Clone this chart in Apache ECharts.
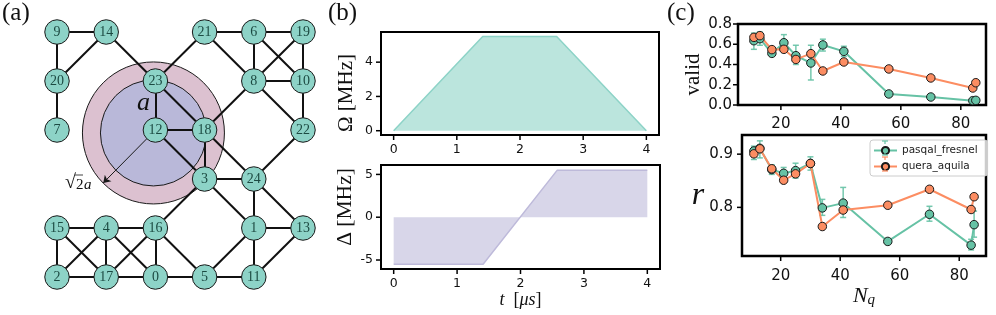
<!DOCTYPE html>
<html>
<head>
<meta charset="utf-8">
<style>html,body{margin:0;padding:0;background:#fff}#chart{width:996px;height:315px}</style>
<script src="https://cdn.jsdelivr.net/npm/echarts@6/dist/echarts.min.js"></script>
</head>
<body>
<div id="chart"></div>
<script>
// (a) atom layout: [name, column, row]
const nodes = [
  ['9',0,0],['14',1,0],['21',3,0],['6',4,0],['19',5,0],
  ['20',0,1],['23',2,1],['8',4,1],['10',5,1],
  ['7',0,2],['12',2,2],['18',3,2],['22',5,2],
  ['3',3,3],['24',4,3],
  ['15',0,4],['4',1,4],['16',2,4],['1',4,4],['13',5,4],
  ['2',0,5],['17',1,5],['0',2,5],['5',3,5],['11',4,5]
]
const edges = [
  ['9','14'],['9','20'],['14','20'],['20','7'],['14','23'],['21','23'],['21','6'],['21','8'],
  ['6','19'],['6','8'],['6','10'],['19','8'],['19','10'],['8','10'],['8','18'],['8','22'],
  ['10','22'],['22','24'],['23','12'],['23','18'],['12','18'],['12','3'],['18','3'],['18','24'],
  ['3','24'],['3','1'],['3','16'],['24','1'],['24','13'],['1','13'],['1','11'],['1','5'],
  ['13','11'],['15','4'],['15','2'],['15','17'],['4','16'],['4','2'],['4','17'],['4','0'],
  ['16','17'],['16','0'],['16','5'],['2','17'],['17','0'],['0','5'],['5','11']
]
const blockadeCentre = [1.96, 2.06]
const arrowEnd = [0.94, 3.08]

// (b) pulse shapes
const pulseT = [0, 1.41, 2.58, 4]
const omega = [0, 5.5, 5.5, 0]
const delta = [-5.5, -5.5, 5.5, 5.5]
const pulseTicksX = [0, 1, 2, 3, 4]
const omegaTicks = [0, 2, 4]
const deltaTicks = [-5, 0, 5]

// (c) results per qubit count
const nq = [11, 13, 17, 21, 25, 30, 34, 41, 56, 70, 84, 85]
const validPasqal = [0.635, 0.655, 0.51, 0.615, 0.487, 0.415, 0.593, 0.53, 0.109, 0.079, 0.043, 0.046]
const validPasqalLow = [0.55, 0.59, 0.49, 0.54, 0.40, 0.247, 0.533, 0.48, 0.095, 0.068, 0.035, 0.036]
const validPasqalHigh = [0.71, 0.72, 0.53, 0.695, 0.59, 0.59, 0.65, 0.58, 0.123, 0.09, 0.051, 0.056]
const validQuera = [0.668, 0.685, 0.547, 0.55, 0.45, 0.507, 0.336, 0.425, 0.356, 0.267, 0.168, 0.22]
const validQueraLow = [0.65, 0.665, 0.53, 0.535, 0.43, 0.49, 0.325, 0.41, 0.345, 0.257, 0.16, 0.21]
const validQueraHigh = [0.686, 0.705, 0.565, 0.565, 0.47, 0.525, 0.347, 0.44, 0.367, 0.277, 0.176, 0.23]
const rPasqal = [0.906, 0.911, 0.871, 0.864, 0.869, 0.8825, 0.799, 0.808, 0.736, 0.787, 0.729, 0.7675]
const rPasqalLow = [0.89, 0.893, 0.862, 0.853, 0.855, 0.87, 0.785, 0.781, 0.732, 0.774, 0.72, 0.744]
const rPasqalHigh = [0.915, 0.925, 0.88, 0.875, 0.883, 0.895, 0.815, 0.8375, 0.74, 0.802, 0.74, 0.793]
const rQuera = [0.9006, 0.91, 0.8725, 0.851, 0.863, 0.8825, 0.764, 0.795, 0.804, 0.834, 0.796, 0.82]
const rQueraLow = [0.895, 0.905, 0.868, 0.846, 0.858, 0.877, 0.76, 0.79, 0.8, 0.83, 0.792, 0.816]
const rQueraHigh = [0.906, 0.915, 0.877, 0.856, 0.868, 0.888, 0.768, 0.8, 0.808, 0.838, 0.8, 0.824]
const nqTicks = [20, 40, 60, 80]
const validTicks = [0, 0.2, 0.4, 0.6, 0.8]
const rTicks = [0.8, 0.9]

const TEAL = '#8dd3c7'
const LAVENDER = '#bebada'
const GREEN = '#66c2a5'
const ORANGE = '#fc8d62'
const INK = '#1a1a1a'
const SERIF = '"Liberation Serif", serif'
const SANS = '"DejaVu Sans", sans-serif'

function frameGrid(left, top, right, bottom, border) {
  return {left: left, top: top, width: right - left, height: bottom - top, show: true,
    borderColor: '#000', borderWidth: border}
}
function valueAxis(gridIndex, min, max, list, fontSize, margin, extra) {
  const axis = {
    type: 'value', gridIndex: gridIndex, min: min, max: max,
    splitLine: {show: false},
    axisLine: {show: true, onZero: false, lineStyle: {color: '#000', width: 2}},
    axisTick: {show: false},
    axisLabel: {fontFamily: SANS, fontSize: fontSize, color: '#111', margin: margin, customValues: list}
  }
  return Object.assign(axis, extra || {})
}
function oneDecimal(axis) {
  axis.axisLabel.formatter = v => v.toFixed(1)
  return axis
}
// outward ticks on the left and bottom of a frame
function tickSeries(axis, xTicks, yTicks, xMin, yMin) {
  return {
    type: 'custom', xAxisIndex: axis, yAxisIndex: axis, silent: true, z: 1, clip: false,
    data: xTicks.map(v => [v, yMin, 0]).concat(yTicks.map(v => [xMin, v, 1])),
    renderItem: function (params, api) {
      const p = api.coord([api.value(0), api.value(1)])
      const vertical = api.value(2) === 0
      return {type: 'line',
        shape: {x1: p[0], y1: p[1], x2: vertical ? p[0] : p[0] - 5, y2: vertical ? p[1] + 5 : p[1]},
        style: {stroke: '#000', lineWidth: 1.5}}
    }
  }
}
function pulseSeries(values, axis, colour) {
  return {
    type: 'line', xAxisIndex: axis, yAxisIndex: axis, silent: true, showSymbol: false,
    data: pulseT.map((t, i) => [t, values[i]]),
    lineStyle: {color: colour, width: 1.5},
    areaStyle: {color: colour, opacity: 0.6, origin: 0}
  }
}
function errorSeries(lows, highs, axis, colour) {
  return {
    type: 'custom', xAxisIndex: axis, yAxisIndex: axis, silent: true, z: 3,
    data: nq.map((n, i) => [n, lows[i], highs[i]]),
    renderItem: function (params, api) {
      const a = api.coord([api.value(0), api.value(1)])
      const b = api.coord([api.value(0), api.value(2)])
      const style = {stroke: colour, lineWidth: 1.5, opacity: 0.9}
      return {type: 'group', children: [
        {type: 'line', shape: {x1: a[0], y1: a[1], x2: b[0], y2: b[1]}, style: style},
        {type: 'line', shape: {x1: a[0] - 3, y1: a[1], x2: a[0] + 3, y2: a[1]}, style: style},
        {type: 'line', shape: {x1: b[0] - 3, y1: b[1], x2: b[0] + 3, y2: b[1]}, style: style}
      ]}
    }
  }
}
function resultSeries(name, values, axis, colour) {
  return {
    name: name, type: 'line', xAxisIndex: axis, yAxisIndex: axis, silent: true, z: 4,
    data: nq.map((n, i) => [n, values[i]]),
    symbol: 'circle', symbolSize: 8.5, showAllSymbol: true,
    lineStyle: {color: colour, width: 2},
    itemStyle: {color: colour, borderColor: INK, borderWidth: 1}
  }
}
function panelTitle(text, left) {
  return {text: text, left: left, top: 1, padding: 0,
    textStyle: {fontFamily: SERIF, fontSize: 25, fontWeight: 'normal', color: '#111'}}
}
// little error bar drawn through a legend marker
function legendBar(x, y, colour) {
  const style = {stroke: colour, lineWidth: 1.2, fill: null}
  return [
    {type: 'polyline', z: 20, shape: {points: [[x - 3, y - 7], [x + 3, y - 7]]}, style: style},
    {type: 'polyline', z: 20, shape: {points: [[x, y - 7], [x, y - 4]]}, style: style},
    {type: 'polyline', z: 20, shape: {points: [[x - 3, y + 7], [x + 3, y + 7]]}, style: style},
    {type: 'polyline', z: 20, shape: {points: [[x, y + 7], [x, y + 4]]}, style: style}
  ]
}

const chart = echarts.init(document.getElementById('chart'), null, {renderer: 'canvas'})
chart.setOption({
  animation: false,
  backgroundColor: '#fff',
  title: [panelTitle('(a)', 2), panelTitle('(b)', 328), panelTitle('(c)', 667)],
  legend: {
    data: ['pasqal_fresnel', 'quera_aquila'], left: 870, top: 140, orient: 'vertical',
    padding: [5, 10, 4, 3], itemGap: 5, itemWidth: 23, itemHeight: 9,
    backgroundColor: 'rgba(255,255,255,0.8)', borderColor: '#ccc', borderWidth: 1, borderRadius: 3,
    textStyle: {fontFamily: SANS, fontSize: 10.5, color: '#222'}
  },
  grid: [
    {left: 57, top: 32, width: 246, height: 245},
    frameGrid(381, 32, 659, 135, 2),
    frameGrid(381, 165, 660, 269, 2),
    frameGrid(738, 24, 986, 105, 2.5),
    frameGrid(742, 135, 986, 256, 2.5)
  ],
  xAxis: [
    {type: 'value', gridIndex: 0, min: 0, max: 5, show: false},
    valueAxis(1, -0.2, 4.2, pulseTicksX, 12.5, 8),
    valueAxis(2, -0.2, 4.2, pulseTicksX, 12.5, 8, {
      name: '{i|t}  [{i|μs}]', nameLocation: 'middle', nameGap: 21,
      nameTextStyle: {fontFamily: SERIF, fontSize: 18, color: '#111', rich: {i: {fontFamily: SERIF, fontStyle: 'italic', fontSize: 18}}}
    }),
    valueAxis(3, 5.7, 88.4, nqTicks, 15, 12),
    valueAxis(4, 7, 89, nqTicks, 15, 13, {
      name: '{i|N}{s|q}', nameLocation: 'middle', nameGap: 22,
      nameTextStyle: {rich: {i: {fontFamily: SERIF, fontStyle: 'italic', fontSize: 22, color: '#111'}, s: {fontFamily: SERIF, fontStyle: 'italic', fontSize: 15, color: '#111', verticalAlign: 'bottom', padding: [8, 0, 0, 0]}}}
    })
  ],
  yAxis: [
    {type: 'value', gridIndex: 0, min: 0, max: 5, inverse: true, show: false},
    valueAxis(1, -0.25, 5.76, omegaTicks, 12.5, 8, {
      name: 'Ω [MHz]', nameLocation: 'middle', nameGap: 24,
      nameTextStyle: {fontFamily: SERIF, fontSize: 21, color: '#111', padding: [0, 19, 0, 0]}
    }),
    valueAxis(2, -6.05, 6.1, deltaTicks, 12.5, 8, {
      name: 'Δ [MHz]', nameLocation: 'middle', nameGap: 15,
      nameTextStyle: {fontFamily: SERIF, fontSize: 21.5, color: '#111', padding: [0, 0, 0, 20]}
    }),
    oneDecimal(valueAxis(3, 0, 0.8, validTicks, 15, 6, {
      name: 'valid', nameLocation: 'middle', nameGap: 22,
      nameTextStyle: {fontFamily: SERIF, fontSize: 21, color: '#111', padding: [0, 20, 0, 0]}
    })),
    oneDecimal(valueAxis(4, 0.7086, 0.936, rTicks, 15, 9, {
      name: 'r', nameLocation: 'middle', nameGap: 32, nameRotate: 0,
      nameTextStyle: {fontFamily: SERIF, fontStyle: 'italic', fontSize: 32, color: '#111', padding: [0, 0, 8, 0]}
    }))
  ],
  series: [
    {type: 'scatter', xAxisIndex: 0, yAxisIndex: 0, silent: true, z: 1, data: [blockadeCentre], symbolSize: 142,
      itemStyle: {color: '#dcc1d0', borderColor: INK, borderWidth: 1, opacity: 1}},
    {type: 'scatter', xAxisIndex: 0, yAxisIndex: 0, silent: true, z: 1, data: [blockadeCentre], symbolSize: 106,
      itemStyle: {color: '#b9b8d9', borderColor: INK, borderWidth: 1, opacity: 1}},
    {type: 'lines', coordinateSystem: 'cartesian2d', xAxisIndex: 0, yAxisIndex: 0, silent: true, z: 2,
      data: [{coords: [[2, 2], arrowEnd]}],
      symbol: ['none', 'arrow'], symbolSize: 7,
      lineStyle: {color: INK, width: 1, opacity: 1}},
    {type: 'graph', coordinateSystem: 'cartesian2d', xAxisIndex: 0, yAxisIndex: 0, layout: 'none', silent: true, z: 3,
      data: nodes.map(n => ({name: n[0], value: [n[1], n[2]]})),
      links: edges.map(e => ({source: e[0], target: e[1]})),
      symbol: 'circle', symbolSize: 24.5,
      itemStyle: {color: TEAL, borderColor: INK, borderWidth: 1, opacity: 1},
      lineStyle: {color: '#111', width: 2, opacity: 1, curveness: 0},
      label: {show: true, position: 'inside', fontFamily: SERIF, fontSize: 14, color: '#1c4a42', formatter: '{b}'}},
    tickSeries(1, pulseTicksX, omegaTicks, -0.2, -0.25),
    tickSeries(2, pulseTicksX, deltaTicks, -0.2, -6.05),
    tickSeries(3, nqTicks, validTicks, 5.7, 0),
    tickSeries(4, nqTicks, rTicks, 7, 0.7086),
    pulseSeries(omega, 1, TEAL),
    pulseSeries(delta, 2, LAVENDER),
    errorSeries(validPasqalLow, validPasqalHigh, 3, GREEN),
    errorSeries(validQueraLow, validQueraHigh, 3, ORANGE),
    resultSeries('pasqal_fresnel', validPasqal, 3, GREEN),
    resultSeries('quera_aquila', validQuera, 3, ORANGE),
    errorSeries(rPasqalLow, rPasqalHigh, 4, GREEN),
    errorSeries(rQueraLow, rQueraHigh, 4, ORANGE),
    resultSeries('pasqal_fresnel', rPasqal, 4, GREEN),
    resultSeries('quera_aquila', rQuera, 4, ORANGE)
  ],
  graphic: [
    {type: 'text', left: 137, top: 90, z: 10, style: {text: 'a', fontFamily: SERIF, fontStyle: 'italic', fontSize: 26, fill: '#111'}},
    {type: 'text', left: 65, top: 173, z: 10, style: {text: '√', fontFamily: SERIF, fontSize: 20, fill: '#111'}},
    {type: 'text', left: 76, top: 178, z: 10, style: {text: '2', fontFamily: SERIF, fontSize: 15, fill: '#111'}},
    {type: 'text', left: 84, top: 178, z: 10, style: {text: 'a', fontFamily: SERIF, fontStyle: 'italic', fontSize: 15, fill: '#111'}},
    {type: 'polyline', z: 10, shape: {points: [[75, 175], [83, 175]]}, style: {stroke: '#111', lineWidth: 0.8, fill: null}}
  ].concat(legendBar(885, 148, GREEN), legendBar(885, 164, ORANGE))
})
</script>
</body>
</html>
